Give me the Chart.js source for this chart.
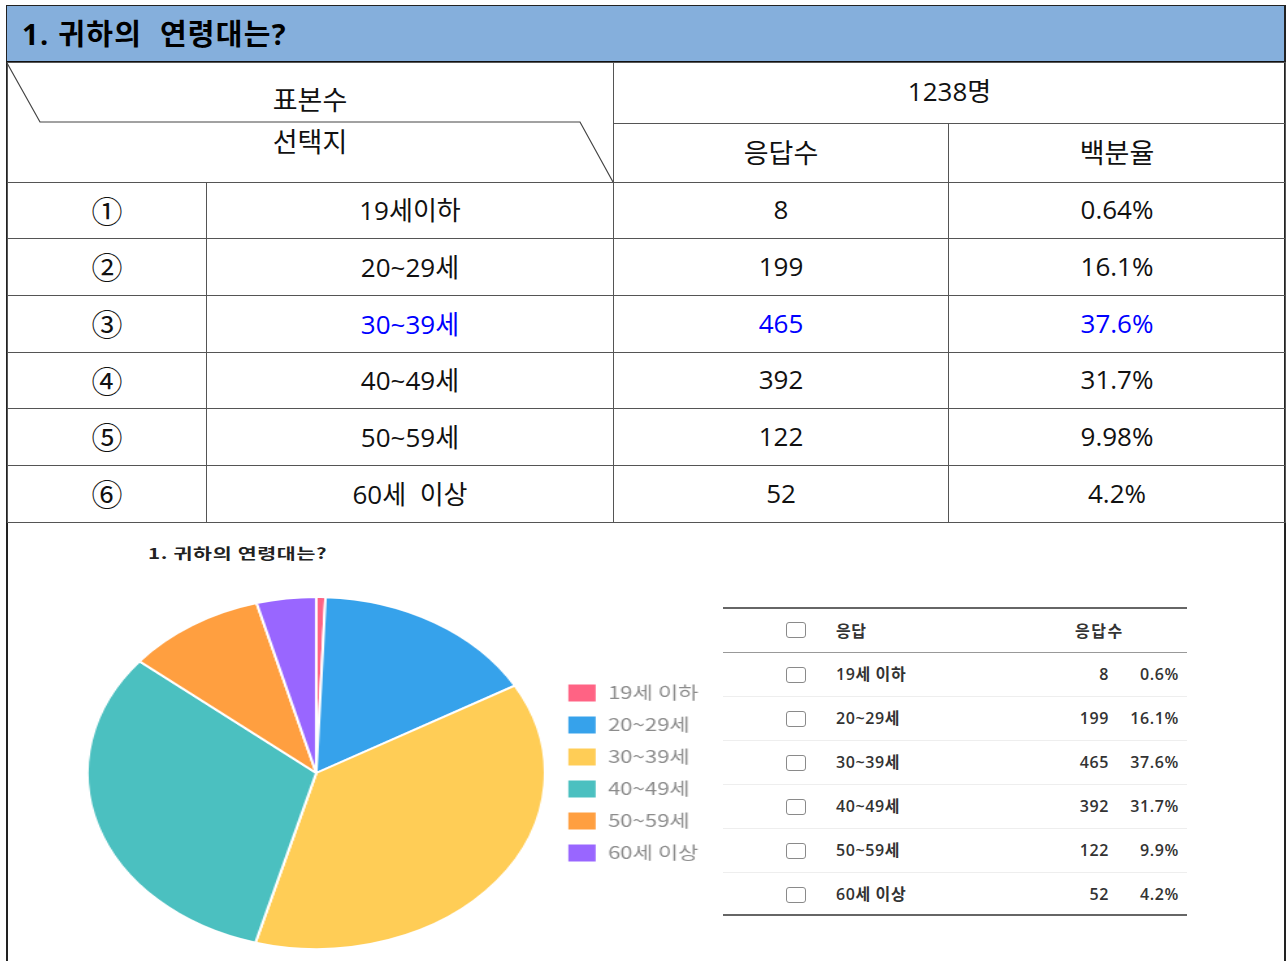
<!DOCTYPE html>
<html><head><meta charset="utf-8">
<script src="https://cdn.jsdelivr.net/npm/chart.js@4.4.1/dist/chart.umd.min.js"></script>
<style>
html,body{margin:0;padding:0;background:#fff;}
body{width:1287px;height:961px;overflow:hidden;position:relative;font-family:"Open Sans","Noto Sans CJK KR",sans-serif;color:#111;}
#frame{position:absolute;left:6px;top:5px;width:1280px;height:980px;border:2px solid #222;box-sizing:border-box;}
#hdr{position:absolute;left:7px;top:6px;width:1277px;height:57px;background:#85afdc;border-bottom:2px solid #111;box-sizing:border-box;}
#hdr span{position:absolute;left:15px;top:5px;font:bold 29px "Open Sans","Noto Sans CJK KR",sans-serif;letter-spacing:1.3px;color:#000;white-space:pre;}
#tbl{position:absolute;left:7px;top:62px;width:1278px;border-collapse:collapse;table-layout:fixed;}
#tbl td{border:1px solid #555;text-align:center;vertical-align:middle;font-size:26px;padding:0 0 3px 0;white-space:pre;color:#111;}
#tbl td.hl{color:#0000ff;}
#tbl td.mk{font-family:"Noto Sans CJK KR",sans-serif;font-size:31px;line-height:1;}
#tbl td.kh{font-size:27px;}
.abs{position:absolute;white-space:pre;}
#sub{left:148px;top:542px;font:bold 15px "Noto Sans CJK KR",sans-serif;color:#222;letter-spacing:0.5px;transform:scaleX(1.37);transform-origin:0 0;}
#pieWrap{position:absolute;left:55px;top:596px;transform:scaleX(1.3);transform-origin:0 0;}
#rt{position:absolute;left:723px;top:607px;width:464px;}
#rt .line{position:absolute;left:0;width:464px;}
#rt .row{position:absolute;left:0;width:464px;height:44px;font:600 16px "Open Sans","Noto Sans CJK KR",sans-serif;color:#333;letter-spacing:0.6px;}
#rt .cb{position:absolute;left:63px;width:18px;height:14px;border:1.5px solid #8a8a8a;border-radius:3px;}
#rt .lab{position:absolute;left:113px;}
#rt .cnt{position:absolute;right:78px;text-align:right;}
#rt .pct{position:absolute;right:8px;text-align:right;}
</style></head>
<body>
<div id="frame"></div>
<div id="hdr"><span>1. 귀하의  연령대는?</span></div>
<table id="tbl">
<colgroup><col style="width:199px"><col style="width:407px"><col style="width:335px"><col style="width:337px"></colgroup>
<tbody id="tb"></tbody>
</table>
<svg class="abs" style="left:0;top:0;pointer-events:none" width="1287" height="961">
<polyline points="7,63 40,122 580,122 613,182" fill="none" stroke="#444" stroke-width="1.2"/>
</svg>
<div class="abs" style="left:210px;top:79px;width:200px;text-align:center;font-size:27px;font-family:'Noto Sans CJK KR'">표본수</div>
<div class="abs" style="left:210px;top:121px;width:200px;text-align:center;font-size:27px;font-family:'Noto Sans CJK KR'">선택지</div>

<div id="sub" class="abs">1. 귀하의 연령대는?</div>
<div id="pieWrap"><canvas id="pie" width="505" height="354"></canvas></div>
<div id="rt"></div>

<script>
// ---- data ----
const markers = ['①','②','③','④','⑤','⑥'];
const tableLabels = ['19세이하','20~29세','30~39세','40~49세','50~59세','60세  이상'];
const categories = ['19세 이하','20~29세','30~39세','40~49세','50~59세','60세 이상'];
const counts = [8,199,465,392,122,52];
const tablePercents = ['0.64%','16.1%','37.6%','31.7%','9.98%','4.2%'];
const chartPercents = ['0.6%','16.1%','37.6%','31.7%','9.9%','4.2%'];
const sampleSize = '1238명';
const highlightRow = 2;
const sliceColors = ['#ff6384','#36a2eb','#ffcd56','#4bc0c0','#ff9f40','#9966ff'];

// ---- top table ----
const tb = document.getElementById('tb');
let h = '<tr style="height:61px"><td colspan="2" rowspan="2"></td><td colspan="2" style="padding-bottom:6px">'+sampleSize+'</td></tr>';
h += '<tr style="height:59px"><td class="kh">응답수</td><td class="kh">백분율</td></tr>';
const rowH = [56,57,57,56,57,57];
for (let i=0;i<categories.length;i++){
  const c = i===highlightRow ? ' class="hl"' : '';
  h += '<tr style="height:'+rowH[i]+'px"><td class="mk">'+markers[i]+'</td><td'+c+'>'+tableLabels[i]+'</td><td'+c+'>'+counts[i]+'</td><td'+c+'>'+tablePercents[i]+'</td></tr>';
}
tb.innerHTML = h;

// ---- right response table ----
const rt = document.getElementById('rt');
let r = '<div class="line" style="top:0;height:2px;background:#666"></div>';
r += '<div class="row" style="top:1px;font-weight:700"><div class="cb" style="top:14px"></div><div class="lab" style="top:10px">응답</div><div class="abs" style="left:352px;top:10px;letter-spacing:1.5px">응답수</div></div>';
r += '<div class="line" style="top:45px;height:1px;background:#999"></div>';
for (let i=0;i<categories.length;i++){
  const top = 46 + i*44;
  r += '<div class="row" style="top:'+top+'px"><div class="cb" style="top:14px"></div><div class="lab" style="top:8px">'+categories[i]+'</div><div class="cnt" style="top:10px">'+counts[i]+'</div><div class="pct" style="top:10px">'+chartPercents[i]+'</div></div>';
  if (i<categories.length-1) r += '<div class="line" style="top:'+(top+43)+'px;height:1px;background:#eee"></div>';
}
r += '<div class="line" style="top:307px;height:2px;background:#666"></div>';
rt.innerHTML = r;

// ---- pie ----
new Chart(document.getElementById('pie'), {
  type: 'pie',
  data: {
    labels: categories,
    datasets: [{ data: counts, backgroundColor: sliceColors, borderColor: '#fff', borderWidth: 2 }]
  },
  options: {
    responsive: false,
    animation: false,
    layout: { padding: { left: 21, right: 0, top: 0, bottom: 0 } },
    plugins: {
      legend: {
        position: 'right',
        labels: {
          boxWidth: 23, boxHeight: 19, padding: 13,
          color: '#8c8c8c',
          font: { size: 17, family: '"Noto Sans CJK KR", sans-serif' }
        }
      },
      tooltip: { enabled: false }
    }
  }
});
</script>
</body></html>
